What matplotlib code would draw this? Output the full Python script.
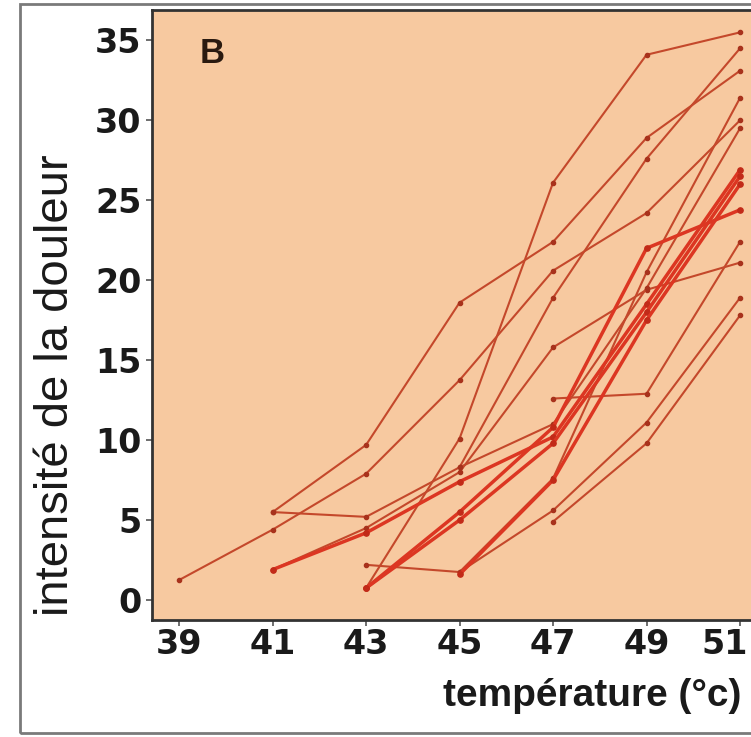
import matplotlib
matplotlib.use("Agg")
import matplotlib.pyplot as plt
from matplotlib.patches import Rectangle

# ---- data ----
temps_1 = [41, 43, 45, 47, 49, 51]
vals_1 = [5.5, 9.7, 18.6, 22.4, 28.9, 33.1]
temps_2 = [43, 45, 47, 49, 51]
vals_2 = [0.75, 10.1, 26.1, 34.1, 35.5]
temps_3 = [39, 41, 43, 45, 47, 49, 51]
vals_3 = [1.25, 4.4, 7.9, 13.75, 20.6, 24.2, 30.0]
temps_4 = [41, 43, 45, 47, 49, 51]
vals_4 = [5.5, 5.2, 8.3, 18.9, 27.6, 34.5]
temps_5 = [41, 43, 45, 47, 49, 51]
vals_5 = [1.9, 4.5, 8.0, 15.8, 19.4, 21.1]
temps_6 = [41, 43, 45, 47, 49, 51]
vals_6 = [1.9, 4.2, 7.4, 10.2, 18.5, 26.9]
temps_7 = [43, 45, 47, 49, 51]
vals_7 = [0.75, 5.0, 9.8, 18.0, 26.5]
temps_8 = [43, 45, 47, 49, 51]
vals_8 = [2.2, 1.75, 7.6, 20.5, 31.4]
temps_9 = [45, 47, 49, 51]
vals_9 = [1.6, 7.5, 17.5, 26.0]
temps_10 = [47, 49, 51]
vals_10 = [12.6, 12.9, 22.4]
temps_11 = [45, 47, 49, 51]
vals_11 = [1.75, 5.6, 11.1, 18.9]
temps_12 = [47, 49, 51]
vals_12 = [4.9, 9.8, 17.8]
temps_13 = [45, 47, 49, 51]
vals_13 = [8.3, 11.0, 19.5, 29.5]
temps_14 = [43, 45, 47, 49, 51]
vals_14 = [0.75, 5.5, 10.8, 22.0, 24.4]

thin_series = [(temps_1, vals_1), (temps_2, vals_2), (temps_3, vals_3),
               (temps_4, vals_4), (temps_5, vals_5), (temps_8, vals_8),
               (temps_10, vals_10), (temps_11, vals_11), (temps_12, vals_12),
               (temps_13, vals_13)]
thick_series = [(temps_6, vals_6), (temps_7, vals_7), (temps_9, vals_9),
                (temps_14, vals_14)]

x_ticks = [39, 41, 43, 45, 47, 49, 51]
y_ticks = [0, 5, 10, 15, 20, 25, 30, 35]
x_tick_labels = ["39", "41", "43", "45", "47", "49", "51"]
y_tick_labels = ["0", "5", "10", "15", "20", "25", "30", "35"]

W, H = 751, 737
fig = plt.figure(figsize=(W / 100, H / 100), dpi=100)
fig.patch.set_facecolor("white")

# outer frame
fig.add_artist(Rectangle((20 / W, 4 / H), 1.2, 729 / H, transform=fig.transFigure,
                         fill=False, edgecolor="#7a7a7a", linewidth=2.0))

ax = fig.add_axes([152 / W, (H - 620) / H, (W - 152) / W, (620 - 10) / H])
ax.set_facecolor("#f7c9a0")

thin_col = "#c4482b"
thick_col = "#dc3622"
for t, v in thin_series:
    ax.plot(t, v, color=thin_col, lw=1.5, marker="o", ms=3.0,
            mfc="#a8321c", mec="#a8321c", solid_capstyle="round")
for t, v in thick_series:
    ax.plot(t, v, color=thick_col, lw=2.5, marker="o", ms=3.8,
            mfc="#c22a18", mec="#c22a18", solid_capstyle="round")

ax.set_xlim(38.42, 51.235)
ax.set_ylim(-1.25, 36.9)
ax.set_xticks(x_ticks)
ax.set_yticks(y_ticks)
# last x label drawn separately so it stays inside the picture
ax.set_xticklabels(x_tick_labels[:-1] + [""])
ax.set_yticklabels(y_tick_labels)

TL = 4.5
PAD = 1
ax.tick_params(axis="both", direction="out", length=TL, width=1.2, color="#555555", pad=PAD)
ax.tick_params(axis="y", pad=3)
for lab in ax.get_xticklabels() + ax.get_yticklabels():
    lab.set_fontfamily("DejaVu Sans")
    lab.set_fontweight("bold")
    lab.set_fontsize(24)
    lab.set_color("#1a1a1a")

ax.annotate(x_tick_labels[-1], xy=(x_ticks[-1], 0), xycoords=("data", "axes fraction"),
            xytext=(-11, -(TL + PAD)), textcoords="offset points",
            ha="center", va="top", fontsize=24, fontweight="bold",
            family="DejaVu Sans", color="#1a1a1a", annotation_clip=False)

for s in ["left", "bottom", "top"]:
    ax.spines[s].set_color("#333333")
    ax.spines[s].set_linewidth(2.0)
ax.spines["right"].set_visible(False)

ax.text(39.7, 34.2, "B", fontsize=25, fontweight="bold", family="Liberation Sans",
        color="#2a1a10", ha="center", va="center")

fig.text(56 / W, 1 - 385 / H, "intensité de la douleur", rotation=90,
         fontsize=34, family="Liberation Sans", color="#1a1a1a",
         ha="center", va="center")
fig.text(741 / W, 1 - 696 / H, "température (°c)", fontsize=28,
         family="Liberation Sans", weight="bold", color="#1a1a1a",
         ha="right", va="center")

fig.savefig("out.png", dpi=100, facecolor=fig.get_facecolor())
